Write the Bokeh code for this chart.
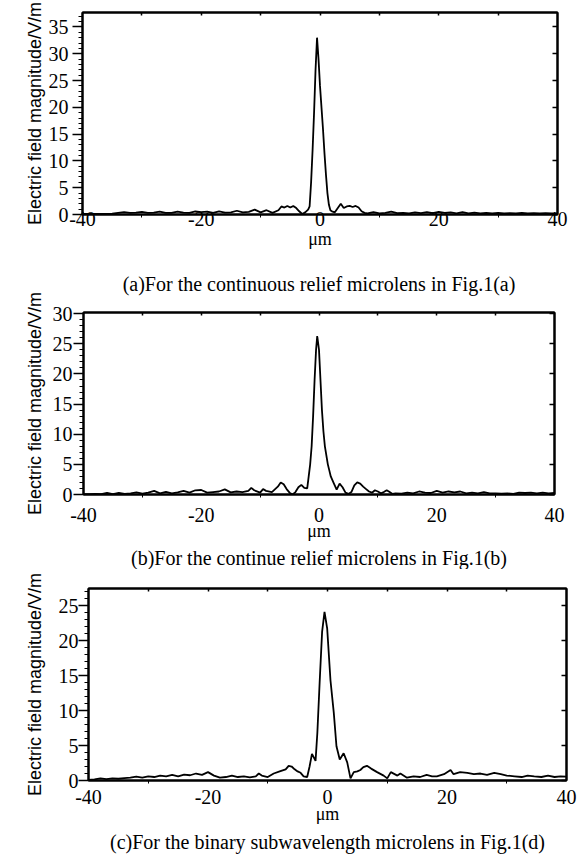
from bokeh.plotting import figure
from bokeh.layouts import column
from bokeh.models import FixedTicker, LinearAxis, Title
from bokeh.embed import file_html
from bokeh.resources import INLINE

# ---- data (x in micrometres, field magnitude in V/m) ----
field_a = [(-40, 0.1), (-39, 0.1), (-38, 0.1), (-37, 0.1), (-36, 0.1), (-35, 0.15), (-34, 0.3), (-33, 0.45),
           (-32, 0.3), (-31, 0.35), (-30, 0.5), (-29, 0.3), (-28, 0.35), (-27, 0.55), (-26, 0.3), (-25, 0.3),
           (-24, 0.55), (-23, 0.35), (-22, 0.3), (-21, 0.6), (-20, 0.45), (-19, 0.55), (-18, 0.3), (-17, 0.6),
           (-16, 0.35), (-15, 0.4), (-14, 0.7), (-13, 0.4), (-12, 0.5), (-11, 0.9), (-10, 0.4), (-9, 0.8),
           (-8, 0.3), (-7, 0.8), (-6.5, 1.5), (-6, 1.3), (-5.5, 1.6), (-5, 1.3), (-4.5, 1.6), (-4, 1.2),
           (-3.5, 0.6), (-3, 0.1), (-2.5, 0.4), (-2, 0.9), (-1.75, 1.5), (-1.5, 6), (-1.25, 12), (-1, 19),
           (-0.75, 27), (-0.5, 33), (-0.25, 29), (0, 24), (0.25, 20), (0.5, 16), (0.75, 11.5), (1, 7.5),
           (1.25, 4), (1.5, 1.8), (1.75, 0.8), (2, 0.6), (2.5, 0.4), (3, 1.2), (3.5, 2.0), (4, 1.2),
           (4.5, 1.5), (5, 1.6), (5.5, 1.4), (6, 1.6), (6.5, 1.3), (7, 0.6), (7.5, 0.3), (8, 0.2),
           (9, 0.45), (10, 0.2), (11, 0.3), (12, 0.55), (13, 0.25), (14, 0.3), (15, 0.2), (16, 0.4),
           (17, 0.25), (18, 0.45), (19, 0.25), (20, 0.5), (21, 0.3), (22, 0.4), (23, 0.2), (24, 0.45),
           (25, 0.2), (26, 0.35), (27, 0.2), (28, 0.3), (29, 0.2), (30, 0.3), (31, 0.2), (32, 0.25),
           (33, 0.2), (34, 0.3), (35, 0.2), (36, 0.25), (37, 0.2), (38, 0.25), (39, 0.2), (40, 0.2)]

field_b = [(-40, 0.05), (-39, 0.05), (-38, 0.1), (-37, 0.05), (-36, 0.25), (-35, 0.05), (-34, 0.25), (-33, 0.1),
           (-32, 0.2), (-31, 0.35), (-30, 0.15), (-29, 0.3), (-28, 0.6), (-27, 0.2), (-26, 0.45), (-25, 0.2),
           (-24, 0.35), (-23, 0.6), (-22, 0.3), (-21, 0.7), (-20, 0.75), (-19, 0.3), (-18, 0.4), (-17, 0.5),
           (-16, 0.85), (-15, 0.35), (-14, 0.5), (-13, 0.4), (-12, 0.6), (-11.5, 1.1), (-11, 0.7), (-10, 0.3),
           (-9.5, 0.9), (-9, 0.6), (-8, 0.4), (-7, 1.3), (-6.5, 2.0), (-6, 1.7), (-5.5, 0.9), (-5, 0.3),
           (-4.5, 0.0), (-4, 0.4), (-3.5, 1.2), (-3, 1.6), (-2.5, 1.1), (-2, 1.0), (-1.75, 3.0), (-1.5, 5.0),
           (-1.25, 8.0), (-1, 13), (-0.75, 19), (-0.5, 24), (-0.3, 26.3), (0, 24), (0.25, 19), (0.5, 14),
           (0.75, 10.5), (1, 8), (1.25, 6.5), (1.5, 5), (1.75, 4), (2, 3), (2.5, 1.9), (3, 0.8),
           (3.5, 1.8), (4, 1.2), (4.5, 0.3), (5, 0.1), (5.5, 0.4), (6, 1.5), (6.5, 2.0), (7, 1.8),
           (7.5, 1.3), (8, 0.9), (8.5, 0.5), (9, 0.3), (9.5, 0.7), (10, 0.5), (10.5, 0.2), (11, 0.4),
           (11.5, 0.7), (12, 0.4), (12.5, 0.1), (13, 0.2), (14, 0.15), (15, 0.3), (16, 0.2), (17, 0.5),
           (18, 0.3), (19, 0.25), (20, 0.6), (21, 0.3), (22, 0.5), (23, 0.35), (24, 0.5), (25, 0.2),
           (26, 0.3), (27, 0.2), (28, 0.4), (29, 0.2), (30, 0.2), (31, 0.15), (32, 0.2), (33, 0.1),
           (34, 0.3), (35, 0.25), (36, 0.3), (37, 0.2), (38, 0.3), (39, 0.2), (40, 0.25)]

field_c = [(-40, 0.1), (-39, 0.15), (-38, 0.3), (-37, 0.2), (-36, 0.3), (-35, 0.25), (-34, 0.35), (-33, 0.4),
           (-32, 0.55), (-31, 0.4), (-30, 0.6), (-29, 0.5), (-28, 0.7), (-27, 0.6), (-26, 0.8), (-25, 0.6),
           (-24, 0.85), (-23, 0.75), (-22, 1.0), (-21, 0.8), (-20, 1.2), (-19, 0.7), (-18, 0.4), (-17, 0.5),
           (-16, 0.7), (-15, 0.5), (-14, 0.6), (-13, 0.45), (-12, 0.6), (-11.5, 1.0), (-11, 0.7), (-10, 0.5),
           (-9, 1.0), (-8, 1.3), (-7, 1.6), (-6.5, 2.1), (-6, 2.0), (-5.5, 1.6), (-5, 1.3), (-4.5, 1.1),
           (-4, 0.6), (-3.4, 0.5), (-3, 2.0), (-2.6, 3.8), (-2, 2.8), (-1.7, 6.8), (-1.3, 14.3), (-0.9, 21.3),
           (-0.5, 24.1), (-0.05, 21.7), (0.5, 14.3), (1.05, 9.7), (1.5, 4.9), (2.05, 3.0), (2.7, 3.9), (3.3, 2.6),
           (3.85, 0.3), (4.4, 1.2), (5, 1.3), (5.5, 1.5), (6, 1.9), (6.6, 2.1), (7.3, 1.7), (8.3, 1.2),
           (9.4, 0.7), (10, 0.3), (10.6, 1.2), (11.7, 0.7), (12.2, 1.0), (13.3, 0.4), (14.4, 0.6), (15.5, 0.5),
           (16.6, 0.8), (17.5, 0.6), (18.3, 0.6), (19.5, 0.9), (20.6, 1.5), (21.1, 0.9), (22.2, 1.2), (23.4, 1.1),
           (24.5, 0.9), (25.6, 1.0), (26.7, 0.8), (27.9, 1.1), (29, 0.9), (30, 0.7), (31.3, 0.6), (32.5, 0.5),
           (33.5, 0.7), (34.6, 0.6), (35.8, 0.5), (36.9, 0.7), (38, 0.5), (39, 0.6), (40, 0.55)]

x_ticks = [-40, -20, 0, 20, 40]
x_minor = [-30, -10, 10, 30]
top_ticks = [-30, -20, -10, 0, 10, 20, 30]
y_ticks_a = [0, 5, 10, 15, 20, 25, 30, 35]
y_ticks_b = [0, 5, 10, 15, 20, 25, 30]
y_ticks_c = [0, 5, 10, 15, 20, 25]

caption_a = "(a)For the continuous relief microlens in Fig.1(a)"
caption_b = "(b)For the continue relief microlens in Fig.1(b)"
caption_c = "(c)For the binary subwavelength microlens in Fig.1(d)"
y_label = "Electric field magnitude/V/m"
x_label = "\u03bcm"

SERIF = "Liberation Serif"
SANS = "Liberation Sans"
LW = 2


def caption_title(text, standoff, valign):
    return Title(text=text, align="center", vertical_align=valign, text_font=SERIF,
                 text_font_size="20px", text_font_style="normal", text_color="black",
                 standoff=standoff)


def panel(pts, ymax, yticks, height, bl, br, bt, bb,
          ytick_standoff, ylabel_standoff, tick_standoff, xlabel_standoff,
          below_caption=None, below_standoff=0, above_caption=None, above_standoff=0):
    xs = [p[0] for p in pts]
    ys = [p[1] for p in pts]
    p = figure(width=583, height=height, x_range=(-40, 40), y_range=(0, ymax),
               output_backend="svg", toolbar_location=None,
               min_border_left=bl, min_border_right=br, min_border_top=bt, min_border_bottom=bb)
    try:
        p.frame_align = False
    except Exception:
        pass
    p.grid.visible = False
    p.outline_line_color = "black"
    p.outline_line_width = LW
    p.background_fill_color = "white"
    p.border_fill_color = "white"

    ymin_ticks = [v for v in range(0, int(ymax) + 1) if v not in yticks]

    xa = p.xaxis[0]
    xa.ticker = FixedTicker(ticks=x_ticks, minor_ticks=x_minor)
    xa.major_tick_out = 0
    xa.major_tick_in = 0
    xa.minor_tick_out = 3
    xa.minor_tick_in = 0
    xa.axis_line_width = LW
    xa.major_label_standoff = tick_standoff
    xa.major_label_text_font = SERIF
    xa.major_label_text_font_size = "20px"
    xa.major_label_text_color = "black"
    xa.major_label_overrides = {t: ("-" + str(-t) if t < 0 else str(t)) for t in x_ticks}
    xa.axis_label = x_label
    xa.axis_label_text_font = SERIF
    xa.axis_label_text_font_style = "normal"
    xa.axis_label_text_font_size = "18px"
    xa.axis_label_text_color = "black"
    xa.axis_label_standoff = xlabel_standoff

    ya = p.yaxis[0]
    ya.ticker = FixedTicker(ticks=yticks, minor_ticks=ymin_ticks)
    ya.major_tick_out = 10
    ya.major_tick_in = 0
    ya.minor_tick_out = 4
    ya.minor_tick_in = 0
    ya.axis_line_width = LW
    ya.major_tick_line_width = 1.5
    ya.major_label_standoff = ytick_standoff
    ya.major_label_text_font = SERIF
    ya.major_label_text_font_size = "20px"
    ya.major_label_text_color = "black"
    ya.axis_label = y_label
    ya.axis_label_text_font = SANS
    ya.axis_label_text_font_style = "normal"
    ya.axis_label_text_font_size = "18px"
    ya.axis_label_text_color = "black"
    ya.axis_label_standoff = ylabel_standoff

    # right and top frame ticks (inward, unlabeled -> minor ticks only)
    right = LinearAxis(ticker=FixedTicker(ticks=[], minor_ticks=yticks), major_tick_in=0, major_tick_out=0,
                       minor_tick_in=5, minor_tick_out=0, minor_tick_line_width=1.5,
                       major_label_standoff=0, axis_line_width=LW)
    p.add_layout(right, "right")
    top = LinearAxis(ticker=FixedTicker(ticks=[], minor_ticks=top_ticks), major_tick_in=0,
                     major_tick_out=0, minor_tick_in=3, minor_tick_out=0, minor_tick_line_width=1.5,
                     major_label_standoff=0, axis_line_width=LW)
    p.add_layout(top, "above")

    if above_caption is not None:
        p.add_layout(caption_title(above_caption, above_standoff, "top"), "above")
    if below_caption is not None:
        p.add_layout(caption_title(below_caption, below_standoff, "bottom"), "below")

    p.line(xs, ys, line_color="black", line_width=1.8)
    return p


# panel (a): caption (a) is carried by the top margin of panel (b) so that it sits where the reference has it
pa = panel(field_a, 37.7, y_ticks_a, 255, 82, 26, 12, 41, 4, 1, -6, 0)
pb = panel(field_b, 30.2, y_ticks_b, 314, 83, 29, 57, 70, 1, 5, 10, -4,
           below_caption=caption_b, below_standoff=2, above_caption=caption_a, above_standoff=32)
pc = panel(field_c, 27.45, y_ticks_c, 285, 88, 17, 19, 70, 0, 11, 6, -3,
           below_caption=caption_c, below_standoff=4)

layout = column(pa, pb, pc, spacing=0)
html = file_html(layout, INLINE)
html = html.replace("<head>", "<head><style>html,body{overflow:hidden;}</style>", 1)
open("out.html", "w").write(html)
